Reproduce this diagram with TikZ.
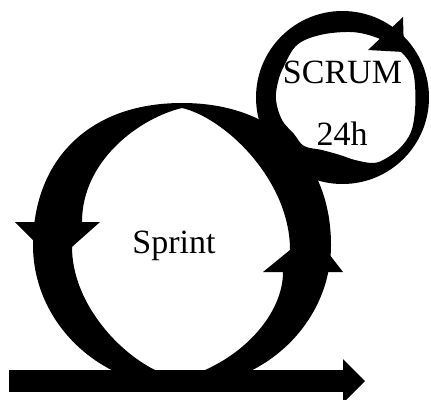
\documentclass[tikz,border=0pt]{standalone}
\usepackage{fontspec}
\setmainfont{Liberation Serif}
\begin{document}
\begin{tikzpicture}[x=1pt,y=-1pt]
\tikzset{
  ink/.style={fill=black},
  bigtext/.style={font=\fontsize{34}{40}\selectfont, anchor=base, inner sep=0pt}
}
\useasboundingbox (0,0) rectangle (431,399);
\clip (0,0) rectangle (431,399);

% large sprint loop: outer oval minus pointed inner opening
\fill[ink, even odd rule]
  (182,103) .. controls (85.15,103) and (33,164) .. (33,245)
  .. controls (33,323) and (100,387) .. (182,387)
  .. controls (264,387) and (331,323) .. (331,245)
  .. controls (331,164) and (278.85,103) .. (182,103) -- cycle
  (182,108) .. controls (140,118) and (82,160) .. (82,222)
  -- (72,247) .. controls (72,300) and (115,350) .. (155,370)
  -- (181,392) -- (205,370)
  .. controls (250,350) and (283,310) .. (283,272)
  -- (290,250) .. controls (290,180) and (225,118) .. (182,108) -- cycle;

% arrowheads of the sprint loop
\fill[ink] (15,222) -- (100,222) -- (55,262) -- cycle;
\fill[ink] (263,272) -- (343,272) -- (312,232) -- cycle;

% small daily loop
\fill[ink, even odd rule]
  (342.5,97.5) circle[radius=86.5]
  plot[smooth cycle, tension=0.6] coordinates {(350,32) (372,36) (392,45) (405,56) (412,68) (415,85) (415,110) (411,132) (400,148) (385,159) (373,163) (355,160) (340,155) (322,150) (304,146) (294,134) (282,120) (276,100) (278,82) (284,66) (297,45) (320,35)};

% arrowheads of the daily loop
\fill[ink] (368,50) -- (403,17) -- (404,52) -- cycle;
\fill[ink] (308,152) -- (280,122) -- (292,188) -- cycle;

% timeline arrow
\fill[ink] (9,370) rectangle (343,392);
\fill[ink] (343,359) -- (365,381) -- (343,403) -- cycle;

% labels
\node[bigtext] (sprint) at (174,253) {Sprint};
\node[bigtext] (scrum) at (342.5,83) {SCRUM};
\node[bigtext] (day) at (342,145) {24h};
\end{tikzpicture}
\end{document}
